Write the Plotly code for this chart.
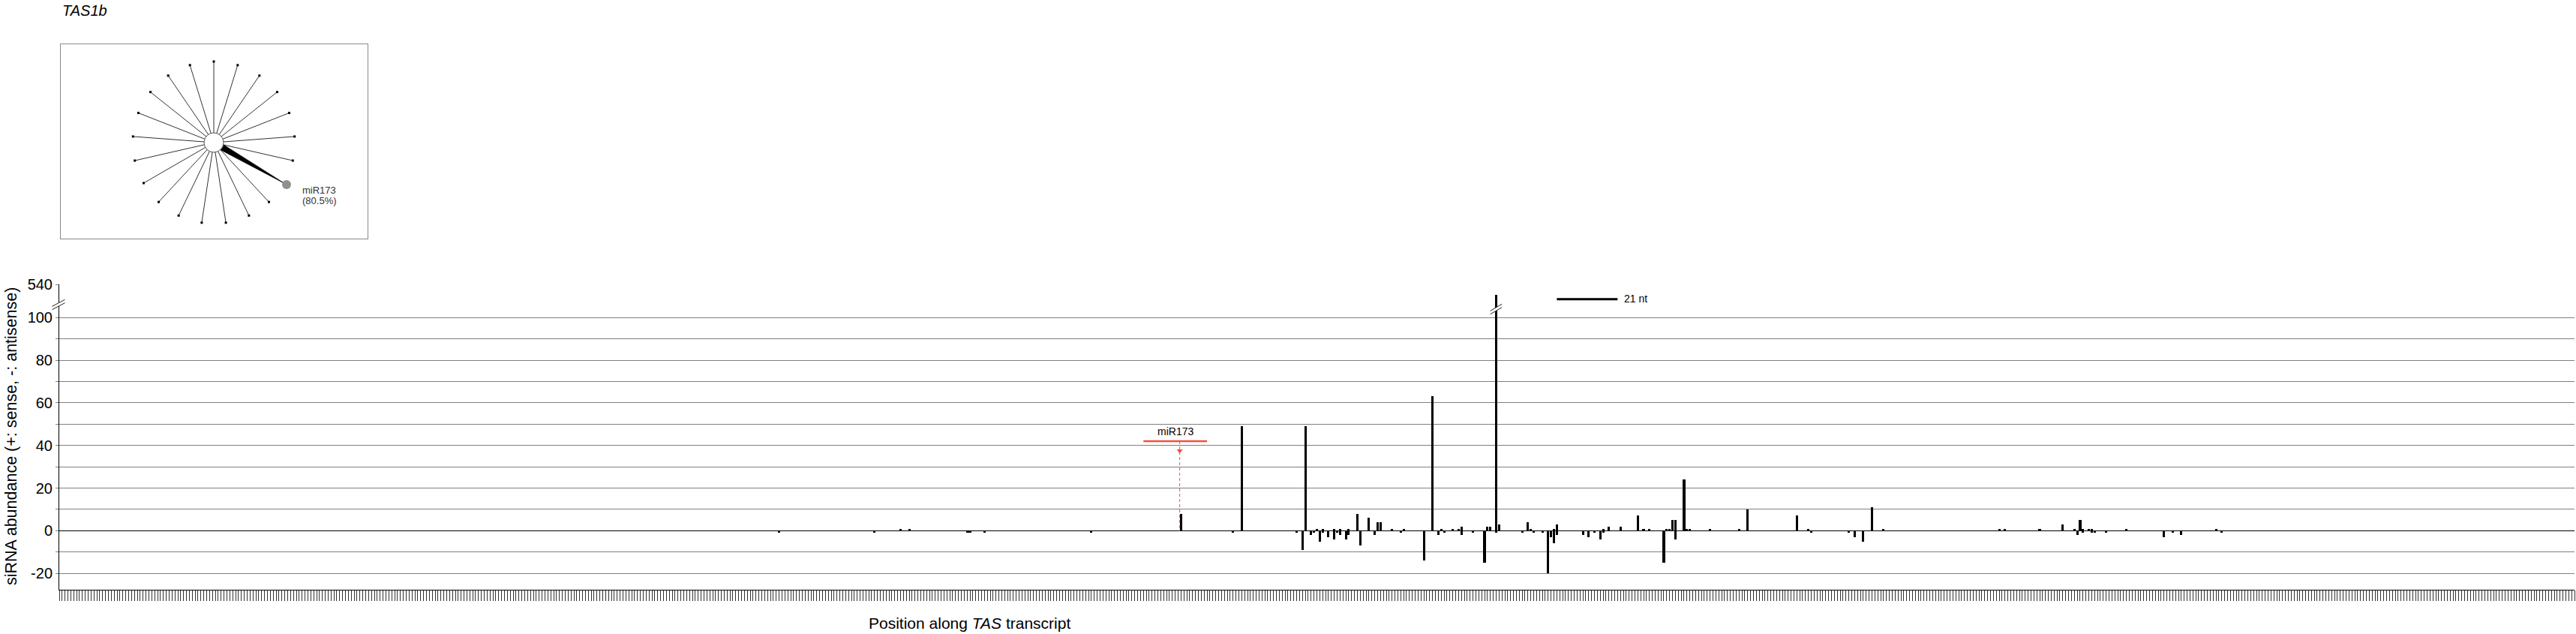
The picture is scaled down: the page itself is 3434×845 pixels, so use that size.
import math
import plotly.graph_objects as go

# ---------------- data ----------------
transcript_length = 870
sense_pos = [291, 294, 388, 409, 431, 435, 437, 441, 443, 446, 449, 453, 456, 457, 461,
             465, 475, 478, 482, 484, 485, 494, 495, 497, 498, 508, 509, 517, 518, 534,
             536, 540, 546, 548, 550, 556, 557, 558, 559, 562, 563, 564, 571, 581, 584,
             601, 605, 627, 631, 671, 673, 685, 693, 697, 699, 700, 702, 703, 715, 746]
sense_val = [1, 1, 8, 49, 49, 1, 1, 1, 1, 1, 8, 6, 4, 4, 1,
             1, 63, 1, 1, 1, 2, 2, 2, 340, 3, 4, 1, 1, 3, 1,
             2, 2, 7, 1, 1, 1, 1, 5, 5, 24, 1, 1, 1, 1, 10,
             7, 1, 11, 1, 1, 1, 1, 3, 1, 5, 1, 1, 1, 1, 1]
antisense_pos = [249, 282, 314, 315, 320, 357, 406, 428, 430, 433, 434, 436, 437, 439, 441,
                 442, 443, 445, 446, 450, 455, 464, 472, 477, 479, 485, 489, 493, 497, 506,
                 510, 513, 515, 516, 517, 518, 527, 529, 531, 533, 534, 555, 559, 606, 619,
                 621, 624, 698, 700, 703, 704, 708, 728, 731, 734, 748]
antisense_val = [-1, -1, -1, -1, -1, -1, -1, -1, -9, -2, -1, -5, -1, -3, -4,
                 -1, -2, -4, -2, -7, -2, -1, -14, -2, -1, -2, -1, -15, -1, -1,
                 -1, -1, -20, -3, -6, -2, -2, -3, -1, -4, -1, -15, -4, -1, -1,
                 -3, -5, -2, -1, -1, -1, -1, -3, -1, -2, -1]

lower_ticks = [-20, -10, 0, 10, 20, 30, 40, 50, 60, 70, 80, 90, 100]
lower_labels = ["-20", "", "0", "", "20", "", "40", "", "60", "", "80", "", "100"]
upper_ticks = [540]
upper_labels = ["540"]

mir_name = "miR173"
mir_start, mir_end = 375, 397
mir_cleave = 388
mir_label_level = 42
scale_bar_start, scale_bar_len = 518, 21

n_registers = 21
mir_register = 7
mir_pct = 80.5

title = "TAS1b"

# ---------------- geometry (pixels of the 3434x845 canvas) ----------------
W, H = 3434, 845
def px(x): return x / W
def py(y): return 1 - y / H

PX0, PX1 = 79, 3432
Y_BOT, Y_BRK, Y_TOP = 786, 410, 379.3
FONT = "Liberation Sans, Arial, sans-serif"
RED = "#f4503c"

fig = go.Figure()

bar_kw = dict(width=0.8, marker=dict(color="black", line=dict(width=0)), hoverinfo="x+y", showlegend=False)
fig.add_trace(go.Bar(x=sense_pos, y=sense_val, xaxis="x", yaxis="y", **bar_kw))
fig.add_trace(go.Bar(x=antisense_pos, y=antisense_val, xaxis="x", yaxis="y", **bar_kw))
fig.add_trace(go.Bar(x=sense_pos, y=sense_val, xaxis="x", yaxis="y3", **bar_kw))

# miR173 arrowhead
fig.add_trace(go.Scatter(x=[mir_cleave - 0.45], y=[mir_label_level - 4.5], mode="markers",
                         marker=dict(symbol="triangle-down", size=7, color=RED),
                         xaxis="x", yaxis="y", showlegend=False, hoverinfo="skip"))

# ---------------- inset: phasing register radial plot ----------------
R_SPOKE, R_CENTER, R_DOT = 108, 13, 112
angles = [math.radians(90 - i * 360 / n_registers) for i in range(n_registers)]
sx, sy = [], []
ex, ey = [], []
for i, a in enumerate(angles):
    if i == mir_register:
        continue
    sx += [0, R_SPOKE * math.cos(a), None]
    sy += [0, R_SPOKE * math.sin(a), None]
    ex.append(R_SPOKE * math.cos(a)); ey.append(R_SPOKE * math.sin(a))
fig.add_trace(go.Scatter(x=sx, y=sy, mode="lines", line=dict(color="#333333", width=1),
                         xaxis="x2", yaxis="y2", showlegend=False, hoverinfo="skip"))
fig.add_trace(go.Scatter(x=ex, y=ey, mode="markers", marker=dict(symbol="square", size=3, color="black"),
                         xaxis="x2", yaxis="y2", showlegend=False, hoverinfo="skip"))
am = angles[mir_register]
ux, uy = math.cos(am), math.sin(am)
vx, vy = -uy, ux
half_w = 4.0 * mir_pct / 80.5
wx = [R_CENTER * ux + half_w * vx, R_DOT * ux, R_CENTER * ux - half_w * vx, R_CENTER * ux + half_w * vx]
wy = [R_CENTER * uy + half_w * vy, R_DOT * uy, R_CENTER * uy - half_w * vy, R_CENTER * uy + half_w * vy]
fig.add_trace(go.Scatter(x=wx, y=wy, mode="lines", fill="toself", fillcolor="black",
                         line=dict(color="black", width=0.5), xaxis="x2", yaxis="y2",
                         showlegend=False, hoverinfo="skip"))
fig.add_trace(go.Scatter(x=[0], y=[0], mode="markers",
                         marker=dict(size=2 * R_CENTER, color="white", line=dict(color="#555", width=1)),
                         xaxis="x2", yaxis="y2", showlegend=False, hoverinfo="skip"))
fig.add_trace(go.Scatter(x=[R_DOT * ux], y=[R_DOT * uy], mode="markers",
                         marker=dict(size=12, color="#909090"),
                         xaxis="x2", yaxis="y2", showlegend=False, hoverinfo="skip"))

# ---------------- layout ----------------
ygrid = dict(showgrid=True, gridcolor="#808080", gridwidth=1, showline=True, linecolor="black",
             linewidth=1, ticks="outside", ticklen=4, tickcolor="#808080", automargin=False,
             tickfont=dict(family=FONT, size=20, color="black"), fixedrange=True)

fig.update_layout(
    template="none",
    width=W, height=H, margin=dict(l=0, r=0, t=0, b=0, pad=0, autoexpand=False),
    paper_bgcolor="white", plot_bgcolor="white", barmode="overlay", bargap=0,
    font=dict(family=FONT, color="black"), showlegend=False,
    xaxis=dict(domain=[px(PX0), px(PX1)], range=[0, transcript_length], anchor="y",
               showline=True, linecolor="black", linewidth=1, ticks="outside", ticklen=14,
               tickcolor="#333", tickwidth=1, tick0=0, dtick=1, showticklabels=False,
               showgrid=False, zeroline=False, fixedrange=True, automargin=False),
    yaxis=dict(domain=[py(Y_BOT), py(Y_BRK)], range=[-27.7, 104.7], anchor="x",
               tickmode="array", tickvals=lower_ticks, ticktext=lower_labels,
               zeroline=True, zerolinecolor="black", zerolinewidth=1, **ygrid),
    yaxis3=dict(domain=[py(Y_BRK), py(Y_TOP)], range=[100, 540], anchor="x",
                tickmode="array", tickvals=upper_ticks, ticktext=upper_labels,
                zeroline=False, **ygrid),
    xaxis2=dict(domain=[px(81), px(490)], range=[-204, 205], anchor="y2", showline=True, mirror=True,
                linecolor="#8a8a8a", linewidth=1, showgrid=False, zeroline=False, ticks="",
                showticklabels=False, fixedrange=True, automargin=False),
    yaxis2=dict(domain=[py(318), py(59)], range=[-128, 131], anchor="x2", showline=True, mirror=True,
                linecolor="#8a8a8a", linewidth=1, showgrid=False, zeroline=False, ticks="",
                showticklabels=False, fixedrange=True, automargin=False),
)

shapes = []
# miR173 target line and dashed guide
shapes.append(dict(type="line", xref="x", yref="y", x0=mir_start, x1=mir_end,
                   y0=mir_label_level, y1=mir_label_level, line=dict(color=RED, width=2.5)))
shapes.append(dict(type="line", xref="x", yref="y", x0=mir_cleave - 0.45, x1=mir_cleave - 0.45,
                   y0=mir_label_level, y1=0, line=dict(color=RED, width=1, dash="4px,3px")))
# 21 nt scale bar
shapes.append(dict(type="line", xref="x", yref="paper", x0=scale_bar_start, x1=scale_bar_start + scale_bar_len,
                   y0=py(398.7), y1=py(398.7), line=dict(color="black", width=3)))

# break marks (axis and tall bar)
def break_marks(xref, xc, dx, yc):
    out = []
    out.append(dict(type="line", xref=xref, yref="paper", x0=xc - dx, x1=xc + dx,
                    y0=py(yc + 3.5), y1=py(yc - 5.5), line=dict(color="white", width=4)))
    for off in (-2.2, 2.2):
        out.append(dict(type="line", xref=xref, yref="paper", x0=xc - dx, x1=xc + dx,
                        y0=py(yc + 3.5 + off), y1=py(yc - 5.5 + off), line=dict(color="#222", width=1)))
    return out

tall_idx = sense_val.index(max(sense_val))
shapes += break_marks("x", sense_pos[tall_idx], 2.0, 413)
shapes += break_marks("paper", px(PX0 - 1), 8.5 / W, 407)
fig.update_layout(shapes=shapes)

ann = []
ann.append(dict(text=f"<i>{title}</i>", x=px(81), y=py(14), xref="paper", yref="paper",
                xanchor="left", yanchor="middle", showarrow=False, font=dict(size=20, family=FONT)))
ann.append(dict(text=mir_name, x=(mir_start + mir_end) / 2, y=mir_label_level + 4.5, xref="x", yref="y",
                xanchor="center", yanchor="middle", showarrow=False, font=dict(size=14, family=FONT)))
ann.append(dict(text=f"{scale_bar_len} nt", x=scale_bar_start + scale_bar_len + 1.8, y=py(398), xref="x",
                yref="paper", xanchor="left", yanchor="middle", showarrow=False, font=dict(size=14, family=FONT)))
ann.append(dict(text="siRNA abundance (+: sense, -: antisense)", x=px(15), y=py(582), xref="paper",
                yref="paper", textangle=-90, xanchor="center", yanchor="middle", showarrow=False,
                font=dict(size=21.5, family=FONT)))
ann.append(dict(text="Position along <i>TAS</i> transcript", x=px(1292), y=py(830), xref="paper",
                yref="paper", xanchor="center", yanchor="middle", showarrow=False,
                font=dict(size=21, family=FONT)))
lx, ly = R_DOT * ux + 19, R_DOT * uy - 8
ann.append(dict(text=mir_name, x=lx, y=ly, xref="x2", yref="y2", xanchor="left", yanchor="middle",
                showarrow=False, font=dict(size=13, family=FONT, color="#333")))
ann.append(dict(text=f"({mir_pct}%)", x=lx, y=ly - 14, xref="x2", yref="y2", xanchor="left",
                yanchor="middle", showarrow=False, font=dict(size=13, family=FONT, color="#333")))
fig.update_layout(annotations=ann)

fig.write_html("out.html", config={"displayModeBar": False},
               post_script="var gd=document.getElementById('{plot_id}');"
                           "gd.style.position='fixed';gd.style.top='0px';gd.style.left='0px';"
                           "document.documentElement.style.margin='0';document.body.style.margin='0';"
                           "document.body.style.padding='0';document.documentElement.style.overflow='hidden';"
                           "document.body.style.overflow='hidden';")
